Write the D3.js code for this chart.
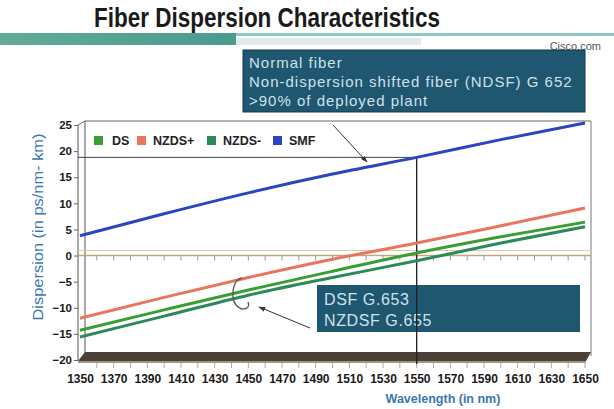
<!DOCTYPE html>
<html>
<head>
<meta charset="utf-8">
<script src="https://cdn.jsdelivr.net/npm/d3@7"></script>
<style>
  body { margin: 0; background: #fff; }
  text { font-family: "Liberation Sans", Arial, sans-serif; }
</style>
</head>
<body>
<div id="chart"></div>
<script>
// data
var wavelengths = [1350, 1400, 1450, 1500, 1550, 1600, 1650];
var dsValues = [-14.3, -10.4, -6.6, -3.0, 0.5, 3.6, 6.4];
var nzdsPlusValues = [-12.0, -8.0, -4.2, -0.7, 2.4, 5.7, 9.1];
var nzdsMinusValues = [-15.6, -11.6, -7.6, -4.2, -1.0, 2.4, 5.5];
var smfValues = [3.8, 8.0, 12.0, 15.6, 18.8, 22.2, 25.4];
var seriesNames = ["DS", "NZDS+", "NZDS-", "SMF"];
var seriesColors = ["#3a9e32", "#e8765e", "#2b8a58", "#2a45c0"];
var xTickLabels = [1350, 1370, 1390, 1410, 1430, 1450, 1470, 1490, 1510, 1530, 1550, 1570, 1590, 1610, 1630, 1650];
var xMinorTicks = [1360, 1370, 1380, 1390, 1400, 1410, 1420, 1430, 1440, 1450, 1460, 1470, 1480, 1490, 1500, 1510, 1520, 1530, 1540, 1550, 1560, 1570, 1580, 1590, 1600, 1610, 1620, 1630, 1640, 1650];
var yTickLabels = [-20, -15, -10, -5, 0, 5, 10, 15, 20, 25];
var refWavelength = 1550, refDispersion = 18.8;
var topNote = ["Normal fiber", "Non-dispersion shifted fiber (NDSF) G 652", ">90% of deployed plant"];
var bottomNote = ["DSF G.653", "NZDSF G.655"];

var width = 614, height = 409;
var plot = {left: 78, inner: 85, right: 591, top: 121, floor: 356};

var svg = d3.select("#chart")
  .append("svg")
  .attr("width", width)
  .attr("height", height);

var defs = svg.append("defs");
var grad = defs.append("linearGradient").attr("id", "band");
grad.append("stop").attr("offset", "0%").attr("stop-color", "#62ab98");
grad.append("stop").attr("offset", "100%").attr("stop-color", "#4a9a8e");
defs.append("marker")
  .attr("id", "arrow")
  .attr("viewBox", "0 0 10 10")
  .attr("refX", 9).attr("refY", 5)
  .attr("markerWidth", 7).attr("markerHeight", 7)
  .attr("orient", "auto")
  .append("path")
  .attr("d", "M0,1.5 L10,5 L0,8.5 z")
  .attr("fill", "#333");

// title + header band
svg.append("text")
  .attr("x", 94).attr("y", 27)
  .attr("textLength", 346)
  .attr("lengthAdjust", "spacingAndGlyphs")
  .style("font-size", "27px")
  .style("font-weight", "bold")
  .attr("fill", "#1a1a1a")
  .text("Fiber Dispersion Characteristics");

svg.append("rect").attr("x", 0).attr("y", 33).attr("width", 236).attr("height", 12).attr("fill", "url(#band)");
svg.append("rect").attr("x", 236).attr("y", 33).attr("width", 378).attr("height", 3).attr("fill", "#8fc6c8");
svg.append("rect").attr("x", 236).attr("y", 38).attr("width", 185).attr("height", 7).attr("fill", "#dfeceb");
svg.append("text")
  .attr("x", 601).attr("y", 50)
  .attr("text-anchor", "end")
  .style("font-size", "11px")
  .attr("fill", "#555")
  .text("Cisco.com");

// scales
var xScale = d3.scaleLinear()
  .domain([1350, 1650])
  .range([80, 585]);

var yScale = d3.scaleLinear()
  .domain([-20, 25])
  .range([360, 125]);

// 3d-ish frame
var frame = svg.append("g").attr("class", "frame");
frame.append("line").attr("x1", plot.inner).attr("x2", plot.right).attr("y1", plot.top).attr("y2", plot.top).attr("stroke", "#666");
frame.append("line").attr("x1", plot.right).attr("x2", plot.right).attr("y1", plot.top).attr("y2", plot.floor).attr("stroke", "#777");
frame.append("line").attr("x1", plot.inner).attr("x2", plot.inner).attr("y1", plot.top).attr("y2", plot.floor).attr("stroke", "#555");
frame.append("line").attr("x1", plot.left).attr("x2", plot.left).attr("y1", yScale(25)).attr("y2", 360).attr("stroke", "#555");
frame.append("line").attr("x1", plot.left).attr("x2", plot.inner).attr("y1", yScale(25)).attr("y2", plot.top).attr("stroke", "#666");

// floor
frame.append("polygon")
  .attr("points", [[plot.left, 361], [plot.inner, 352], [plot.right, 352], [plot.right - 5, 361]].join(" "))
  .attr("fill", "#4b4136");
frame.append("line").attr("x1", plot.left).attr("x2", plot.right - 5).attr("y1", 362).attr("y2", 362).attr("stroke", "#a09584").attr("stroke-width", 2);

// zero plane
frame.append("line").attr("x1", plot.left).attr("x2", plot.right).attr("y1", yScale(0) - 5).attr("y2", yScale(0) - 5).attr("stroke", "#d9ccb0");
frame.append("line").attr("x1", plot.left).attr("x2", plot.right).attr("y1", yScale(0)).attr("y2", yScale(0)).attr("stroke", "#bfa67e").attr("stroke-width", 1.5);

frame.selectAll(".zero-tick")
  .data(xMinorTicks)
  .enter()
  .append("line")
  .attr("x1", function(d) { return xScale(d) }).attr("x2", function(d) { return xScale(d) })
  .attr("y1", yScale(0)).attr("y2", yScale(0) + 5)
  .attr("stroke", "#999");

frame.selectAll(".floor-tick")
  .data(xMinorTicks)
  .enter()
  .append("line")
  .attr("x1", function(d) { return xScale(d) }).attr("x2", function(d) { return xScale(d) })
  .attr("y1", 363).attr("y2", 368)
  .attr("stroke", "#aaa");

// reference lines at 1550 nm
svg.append("line")
  .attr("x1", plot.left).attr("x2", xScale(refWavelength))
  .attr("y1", yScale(refDispersion)).attr("y2", yScale(refDispersion))
  .attr("stroke", "#444");
svg.append("line")
  .attr("x1", xScale(refWavelength)).attr("x2", xScale(refWavelength))
  .attr("y1", yScale(refDispersion)).attr("y2", 364)
  .attr("stroke", "#222").attr("stroke-width", 1.3);

// Y axis
var yAxis = d3.axisLeft(yScale).tickValues(yTickLabels).tickSize(4).tickPadding(2);
var gy = svg.append("g")
  .attr("transform", `translate(${plot.left},0)`)
  .call(yAxis);
gy.select(".domain").remove();
gy.selectAll("line").attr("stroke", "#666");
gy.selectAll("text")
  .style("font-size", "11.5px")
  .style("font-weight", "bold")
  .style("font-family", "'Liberation Sans', Arial, sans-serif")
  .attr("fill", "#1a1a1a");

// X axis labels
var xAxis = d3.axisBottom(xScale).tickValues(xTickLabels).tickSize(0).tickPadding(0).tickFormat(d3.format("d"));
var gx = svg.append("g")
  .attr("transform", "translate(0,374)")
  .call(xAxis);
gx.select(".domain").remove();
gx.selectAll("text")
  .style("font-size", "12px")
  .style("font-weight", "bold")
  .style("font-family", "'Liberation Sans', Arial, sans-serif")
  .attr("fill", "#1a1a1a");

// axis titles
svg.append("text")
  .attr("x", 443).attr("y", 403)
  .attr("text-anchor", "middle")
  .style("font-size", "12.5px")
  .style("font-weight", "bold")
  .attr("fill", "#3a78b2")
  .text("Wavelength (in nm)");
svg.append("text")
  .attr("transform", "translate(43,227) rotate(-90)")
  .attr("text-anchor", "middle")
  .attr("textLength", 187)
  .attr("lengthAdjust", "spacingAndGlyphs")
  .style("font-size", "15px")
  .attr("fill", "#3a78b2")
  .text("Dispersion (in ps/nm- km)");

// series lines
var seriesValues = [dsValues, nzdsPlusValues, nzdsMinusValues, smfValues];
var line = d3.line()
  .x(function(d, i) { return xScale(wavelengths[i]) })
  .y(function(d) { return yScale(d) })
  .curve(d3.curveMonotoneX);

svg.selectAll(".series")
  .data(seriesValues)
  .enter()
  .append("path")
  .attr("class", "series")
  .attr("d", line)
  .attr("fill", "none")
  .attr("stroke", function(d, i) { return seriesColors[i] })
  .attr("stroke-width", 3);

// legend
var legendX = [94, 137, 207, 273];
var legend = svg.selectAll(".legend")
  .data(seriesNames)
  .enter()
  .append("g")
  .attr("transform", function(d, i) { return `translate(${legendX[i]},136)` });
legend.append("rect")
  .attr("width", 9).attr("height", 9)
  .attr("fill", function(d, i) { return seriesColors[i] });
legend.append("text")
  .attr("x", function(d, i) { return i == 0 ? 18 : 16 })
  .attr("y", 9)
  .style("font-size", "12.5px")
  .style("font-weight", "bold")
  .attr("fill", "#222")
  .text(function(d) { return d });

// annotation boxes
svg.append("rect")
  .attr("x", 243).attr("y", 50).attr("width", 342).attr("height", 62)
  .attr("fill", "#1f5670").attr("stroke", "#15394a");
svg.selectAll(".note1")
  .data(topNote)
  .enter()
  .append("text")
  .attr("x", 249)
  .attr("y", function(d, i) { return 68 + i * 19 })
  .style("font-size", "15px")
  .style("letter-spacing", "1px")
  .attr("fill", "#cfe2ea")
  .text(function(d) { return d });

svg.append("rect")
  .attr("x", 317).attr("y", 285).attr("width", 263).attr("height", 47)
  .attr("fill", "#1f5670");
svg.selectAll(".note2")
  .data(bottomNote)
  .enter()
  .append("text")
  .attr("x", 324)
  .attr("y", function(d, i) { return 305 + i * 21 })
  .style("font-size", "16px")
  .style("letter-spacing", "0.6px")
  .attr("fill", "#cfe2ea")
  .text(function(d) { return d });

// redraw the vertical ref line over the lower box
svg.append("line")
  .attr("x1", xScale(refWavelength)).attr("x2", xScale(refWavelength))
  .attr("y1", 285).attr("y2", 332)
  .attr("stroke", "#222").attr("stroke-width", 1.3);

// pointers
svg.append("line")
  .attr("x1", 333).attr("y1", 125).attr("x2", 367).attr("y2", 162)
  .attr("stroke", "#333").attr("marker-end", "url(#arrow)");
svg.append("line")
  .attr("x1", 310).attr("y1", 328).attr("x2", 259).attr("y2", 307)
  .attr("stroke", "#333").attr("marker-end", "url(#arrow)");
svg.append("path")
  .attr("d", "M242,278 C233,279 230,297 236,305 C241,311 251,310 248,302")
  .attr("fill", "none")
  .attr("stroke", "#555")
  .attr("stroke-width", 1.3);
</script>
</body>
</html>
